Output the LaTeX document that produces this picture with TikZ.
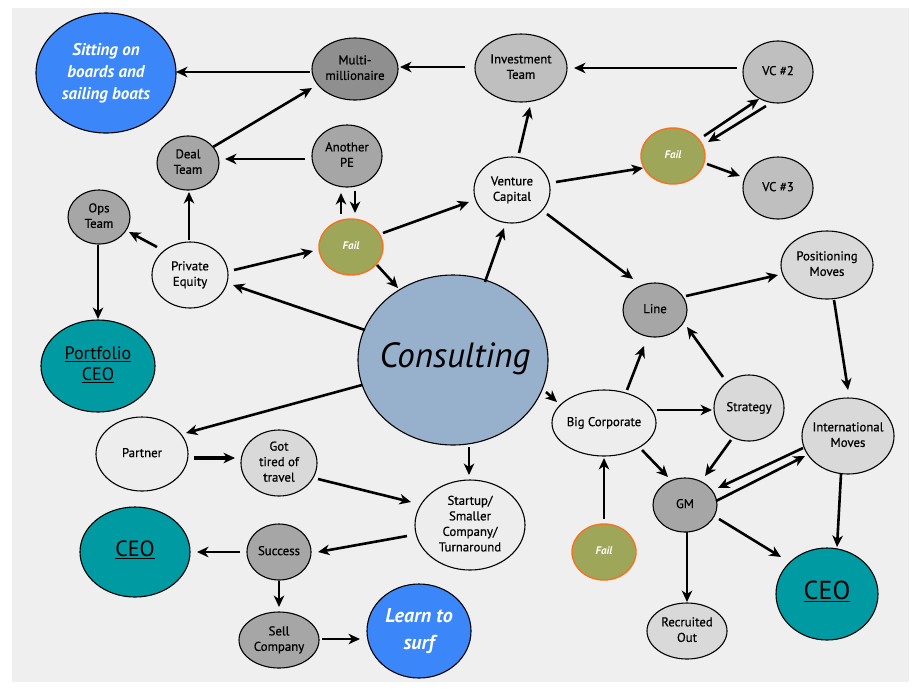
\documentclass[tikz,border=0pt]{standalone}
\usepackage{fontspec}
\setmainfont{PT Sans}
\newfontfamily\medfont{PT Sans}[FakeBold=0.6]
\usetikzlibrary{shapes.geometric,arrows.meta}
\definecolor{bgc}{HTML}{EFEFEF}
\definecolor{cW}{HTML}{EDEDED}
\definecolor{cL}{HTML}{D9D9D9}
\definecolor{cM}{HTML}{BFBFBF}
\definecolor{cD}{HTML}{A6A6A6}
\definecolor{cX}{HTML}{8F8F8F}
\definecolor{cCons}{HTML}{97B0CB}
\definecolor{cTeal}{HTML}{009AA3}
\definecolor{cBlue}{HTML}{3B87FA}
\definecolor{cOlive}{HTML}{9EA65A}
\definecolor{cOrange}{HTML}{F47321}
\newcommand\T[1]{\makebox[0pt]{\begin{tabular}{@{}c@{}}#1\end{tabular}}}
\tikzset{
  bub/.style={ellipse, draw=black, line width=1.1pt, inner sep=0pt, outer sep=0pt,
    font=\medfont\fontsize{12.8}{15.5}\selectfont},
  failbub/.style={bub, fill=cOlive, draw=cOrange, line width=1.4pt,
    minimum width=64pt, minimum height=56pt, text=white,
    font=\fontsize{11}{12}\selectfont\bfseries\itshape},
  arr/.style={-{Stealth[length=11.5pt,width=10.5pt,inset=3.5pt]}, line width=2.6pt},
  tarr/.style={arr, line width=3.6pt}
}
\begin{document}
\begin{tikzpicture}[x=1pt,y=-1pt]
\useasboundingbox (0,0) rectangle (920,689);
\fill[white] (0,0) rectangle (920,689);
\fill[bgc] (12,8) rectangle (909,682);

% nodes
\node[bub, fill=cBlue, minimum width=140pt, minimum height=120pt, text=white,
  font=\fontsize{17}{22}\selectfont\bfseries\itshape] (sit) at (106,73) {\T{Sitting on\\boards and\\sailing boats}};
\node[bub, fill=cX, minimum width=86pt, minimum height=62pt] (multi) at (355,69) {\T{Multi-\\millionaire}};
\node[bub, fill=cD, minimum width=62pt, minimum height=54pt] (deal) at (188,163) {\T{Deal\\Team}};
\node[bub, fill=cD, minimum width=70pt, minimum height=62pt] (ape) at (347,156) {\T{Another\\PE}};
\node[bub, fill=cD, minimum width=62pt, minimum height=54pt] (ops) at (99,217) {\T{Ops\\Team}};
\node[bub, fill=cW, minimum width=76pt, minimum height=66pt] (pe) at (190,275) {\T{Private\\Equity}};
\node[failbub] (fail1) at (351,247) {\T{Fail}};
\node[bub, fill=cCons, minimum width=190pt, minimum height=170pt,
  font=\fontsize{35}{38}\selectfont\itshape] (cons) at (453,360) {\T{\hspace{4pt}Consulting}};
\node[bub, fill=cM, minimum width=92pt, minimum height=68pt] (inv) at (521,68) {\T{Investment\\Team}};
\node[bub, fill=cM, minimum width=70pt, minimum height=62pt] (vc2) at (778,72) {\T{VC \#2}};
\node[failbub] (fail2) at (673,156) {\T{Fail}};
\node[bub, fill=cM, minimum width=70pt, minimum height=62pt] (vc3) at (778,188) {\T{VC \#3}};
\node[bub, fill=cW, minimum width=76pt, minimum height=66pt] (vcap) at (512,190) {\T{Venture\\Capital}};
\node[bub, fill=cL, minimum width=92pt, minimum height=68pt] (pos) at (827,265) {\T{Positioning\\Moves}};
\node[bub, fill=cD, minimum width=64pt, minimum height=54pt] (line) at (655,310) {\T{Line}};
\node[bub, fill=cTeal, minimum width=114pt, minimum height=92pt,
  font=\fontsize{18}{21}\selectfont] (pceo) at (98,366) {\T{\underline{Portfolio}\\\underline{CEO}}};
\node[bub, fill=cW, minimum width=92pt, minimum height=74pt] (partner) at (142,454) {\T{Partner}};
\node[bub, fill=cL, minimum width=76pt, minimum height=66pt] (tired) at (279,463) {\T{Got\\tired of\\travel}};
\node[bub, fill=cTeal, minimum width=110pt, minimum height=90pt,
  font=\fontsize{22}{24}\selectfont] (ceoL) at (135,552) {\T{\underline{CEO}}};
\node[bub, fill=cD, minimum width=64pt, minimum height=56pt] (succ) at (279,552) {\T{Success}};
\node[bub, fill=cD, minimum width=80pt, minimum height=56pt] (sell) at (279,640) {\T{Sell\\Company}};
\node[bub, fill=cBlue, minimum width=104pt, minimum height=94pt, text=white,
  font=\fontsize{20}{27}\selectfont\bfseries\itshape] (surf) at (419,631) {\T{Learn to\\surf}};
\node[bub, fill=cW, minimum width=110pt, minimum height=90pt] (start) at (470,525) {\T{Startup/\\Smaller\\Company/\\Turnaround}};
\node[bub, fill=cW, minimum width=104pt, minimum height=66pt] (bigc) at (604,423) {\T{Big Corporate}};
\node[bub, fill=cL, minimum width=70pt, minimum height=66pt] (strat) at (749,408) {\T{Strategy}};
\node[bub, fill=cL, minimum width=92pt, minimum height=76pt] (intl) at (848,436) {\T{International\\Moves}};
\node[bub, fill=cD, minimum width=64pt, minimum height=54pt] (gm) at (685,505) {\T{GM}};
\node[failbub] (fail3) at (604,552) {\T{Fail}};
\node[bub, fill=cL, minimum width=80pt, minimum height=56pt] (recr) at (687,631) {\T{Recruited\\Out}};
\node[bub, fill=cTeal, minimum width=102pt, minimum height=92pt,
  font=\fontsize{26}{28}\selectfont] (ceoR) at (827,594) {\T{\underline{CEO}}};

% connectors
\draw[arr] ([shift={(-45,3)}]multi.center) -- ([shift={(70,-1)}]sit.center);
\draw[arr] ([shift={(-56,-1)}]inv.center) -- ([shift={(45,-2)}]multi.center);
\draw[arr] ([shift={(-41,-4)}]vc2.center) -- ([shift={(53,0)}]inv.center);
\draw[arr] ([shift={(25,-16)}]deal.center) -- ([shift={(-43,19)}]multi.center);
\draw[arr] ([shift={(-42,3)}]ape.center) -- ([shift={(37,-4)}]deal.center);
\draw[arr] ([shift={(-1,-35)}]pe.center) -- ([shift={(1,29)}]deal.center);
\draw[arr] ([shift={(-33,-28)}]pe.center) -- ([shift={(30,15)}]ops.center);
\draw[arr] ([shift={(-1,28)}]ops.center) -- ([shift={(0,-47)}]pceo.center);
\draw[arr] ([shift={(44,-5)}]pe.center) -- ([shift={(-38,4)}]fail1.center);
\draw[arr] ([shift={(-10,-33)}]fail1.center) -- ([shift={(-6,37)}]ape.center);
\draw[arr] ([shift={(8,35)}]ape.center) -- ([shift={(4,-34)}]fail1.center);
\draw[arr] ([shift={(26,18)}]fail1.center) -- ([shift={(-55,-72)}]cons.center);
\draw[arr] ([shift={(32,-14)}]fail1.center) -- ([shift={(-43,12)}]vcap.center);
\draw[arr] ([shift={(-88,-30)}]cons.center) -- ([shift={(43,10)}]pe.center);
\draw[arr] ([shift={(32,-78)}]cons.center) -- ([shift={(-8,38)}]vcap.center);
\draw[arr] ([shift={(7,-37)}]vcap.center) -- ([shift={(9,39)}]inv.center);
\draw[arr] ([shift={(44,-8)}]vcap.center) -- ([shift={(-30,12)}]fail2.center);
\draw[arr] ([shift={(31,-20)}]fail2.center) -- ([shift={(-19,27)}]vc2.center);
\draw[arr] ([shift={(-12,34)}]vc2.center) -- ([shift={(35,-14)}]fail2.center);
\draw[arr] ([shift={(34,8)}]fail2.center) -- ([shift={(-38,-12)}]vc3.center);
\draw[arr] ([shift={(35,24)}]vcap.center) -- ([shift={(-22,-31)}]line.center);
\draw[arr] ([shift={(31,-14)}]line.center) -- ([shift={(-49,10)}]pos.center);
\draw[arr] ([shift={(7,35)}]pos.center) -- ([shift={(0,-46)}]intl.center);
\draw[arr] ([shift={(93,32)}]cons.center) -- ([shift={(-47,-21)}]bigc.center);
\draw[arr] ([shift={(-91,25)}]cons.center) -- ([shift={(44,-21)}]partner.center);
\draw[arr] ([shift={(16,87)}]cons.center) -- ([shift={(-1,-50)}]start.center);
\draw[tarr] ([shift={(52,4)}]partner.center) -- ([shift={(-44,-5)}]tired.center);
\draw[arr] ([shift={(39,16)}]tired.center) -- ([shift={(-59,-23)}]start.center);
\draw[arr] ([shift={(-63,11)}]start.center) -- ([shift={(39,0)}]succ.center);
\draw[arr] ([shift={(-39,0)}]succ.center) -- ([shift={(62,0)}]ceoL.center);
\draw[arr] ([shift={(0,29)}]succ.center) -- ([shift={(0,-33)}]sell.center);
\draw[arr] ([shift={(43,-1)}]sell.center) -- ([shift={(-59,8)}]surf.center);
\draw[arr] ([shift={(23,-33)}]bigc.center) -- ([shift={(-11,36)}]line.center);
\draw[arr] ([shift={(53,-13)}]bigc.center) -- ([shift={(-37,2)}]strat.center);
\draw[arr] ([shift={(-26,-31)}]strat.center) -- ([shift={(32,17)}]line.center);
\draw[arr] ([shift={(38,27)}]bigc.center) -- ([shift={(-17,-28)}]gm.center);
\draw[arr] ([shift={(-18,32)}]strat.center) -- ([shift={(20,-29)}]gm.center);
\draw[arr] ([shift={(0,-33)}]fail3.center) -- ([shift={(0,35)}]bigc.center);
\draw[arr] ([shift={(-45,12)}]intl.center) -- ([shift={(33,-17)}]gm.center);
\draw[arr] ([shift={(31,-4)}]gm.center) -- ([shift={(-43,20)}]intl.center);
\draw[arr] ([shift={(34,14)}]gm.center) -- ([shift={(-46,-37)}]ceoR.center);
\draw[arr] ([shift={(-7,38)}]intl.center) -- ([shift={(10,-47)}]ceoR.center);
\draw[arr] ([shift={(2,27)}]gm.center) -- ([shift={(0,-29)}]recr.center);
\end{tikzpicture}
\end{document}
